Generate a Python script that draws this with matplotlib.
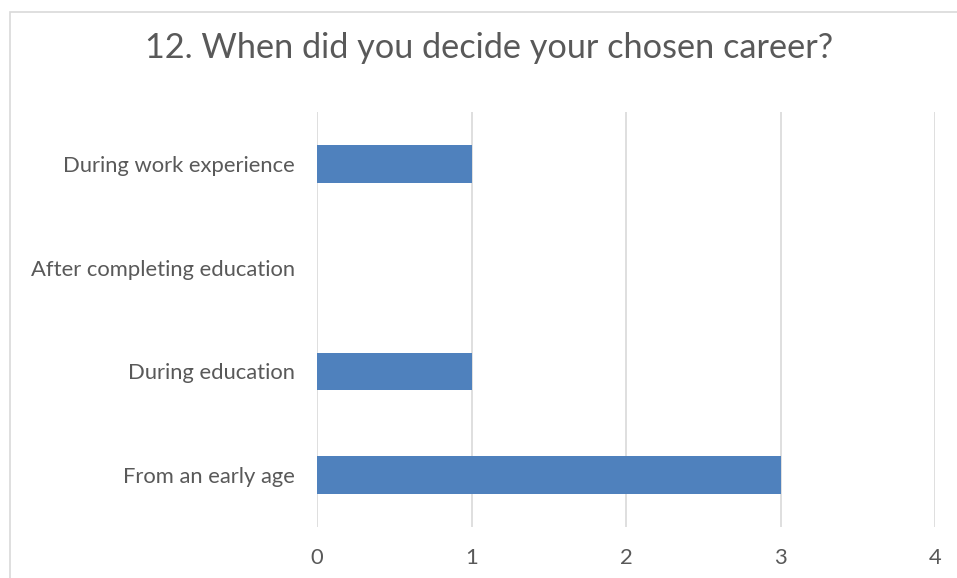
import matplotlib
matplotlib.use('Agg')
import matplotlib.pyplot as plt
from matplotlib.patches import Rectangle

categories = ['From an early age', 'During education', 'After completing education', 'During work experience']
counts = [3, 1, 0, 1]
xticks = [0, 1, 2, 3, 4]

text_col = '#595959'
grid_col = '#D9D9D9'
bar_col = '#4F81BD'

plt.rcParams['font.family'] = ['Lato', 'DejaVu Sans']

W, H = 957, 578
fig = plt.figure(figsize=(W / 100, H / 100), dpi=100)

# chart frame (runs off the right and bottom edges)
fig.patches.append(Rectangle((9.5 / W, -0.1), 1.2, 1.1 - 12.5 / H,
                             transform=fig.transFigure, fill=False,
                             edgecolor='#D9D9D9', linewidth=1.2, clip_on=False))

ax = fig.add_axes([317 / W, 51 / H, 618 / W, 415 / H])
ax.barh(range(len(categories)), counts, height=0.36, color=bar_col, zorder=3)
ax.set_ylim(-0.5, len(categories) - 0.5)
ax.set_xlim(0, 4)
ax.set_xticks(xticks)
ax.set_yticks(range(len(categories)))
ax.set_yticklabels(categories)
ax.grid(axis='x', color=grid_col, linewidth=1.2, zorder=0)
for s in ax.spines.values():
    s.set_visible(False)
ax.tick_params(axis='both', length=0, colors=text_col, labelsize=15.8)
ax.tick_params(axis='x', pad=15)
ax.tick_params(axis='y', pad=16)

fig.text(489.5 / W, 1 - 48 / H, '12. When did you decide your chosen career?',
         ha='center', va='center', fontsize=24.7, color=text_col)

fig.savefig('out.png', dpi=100)
